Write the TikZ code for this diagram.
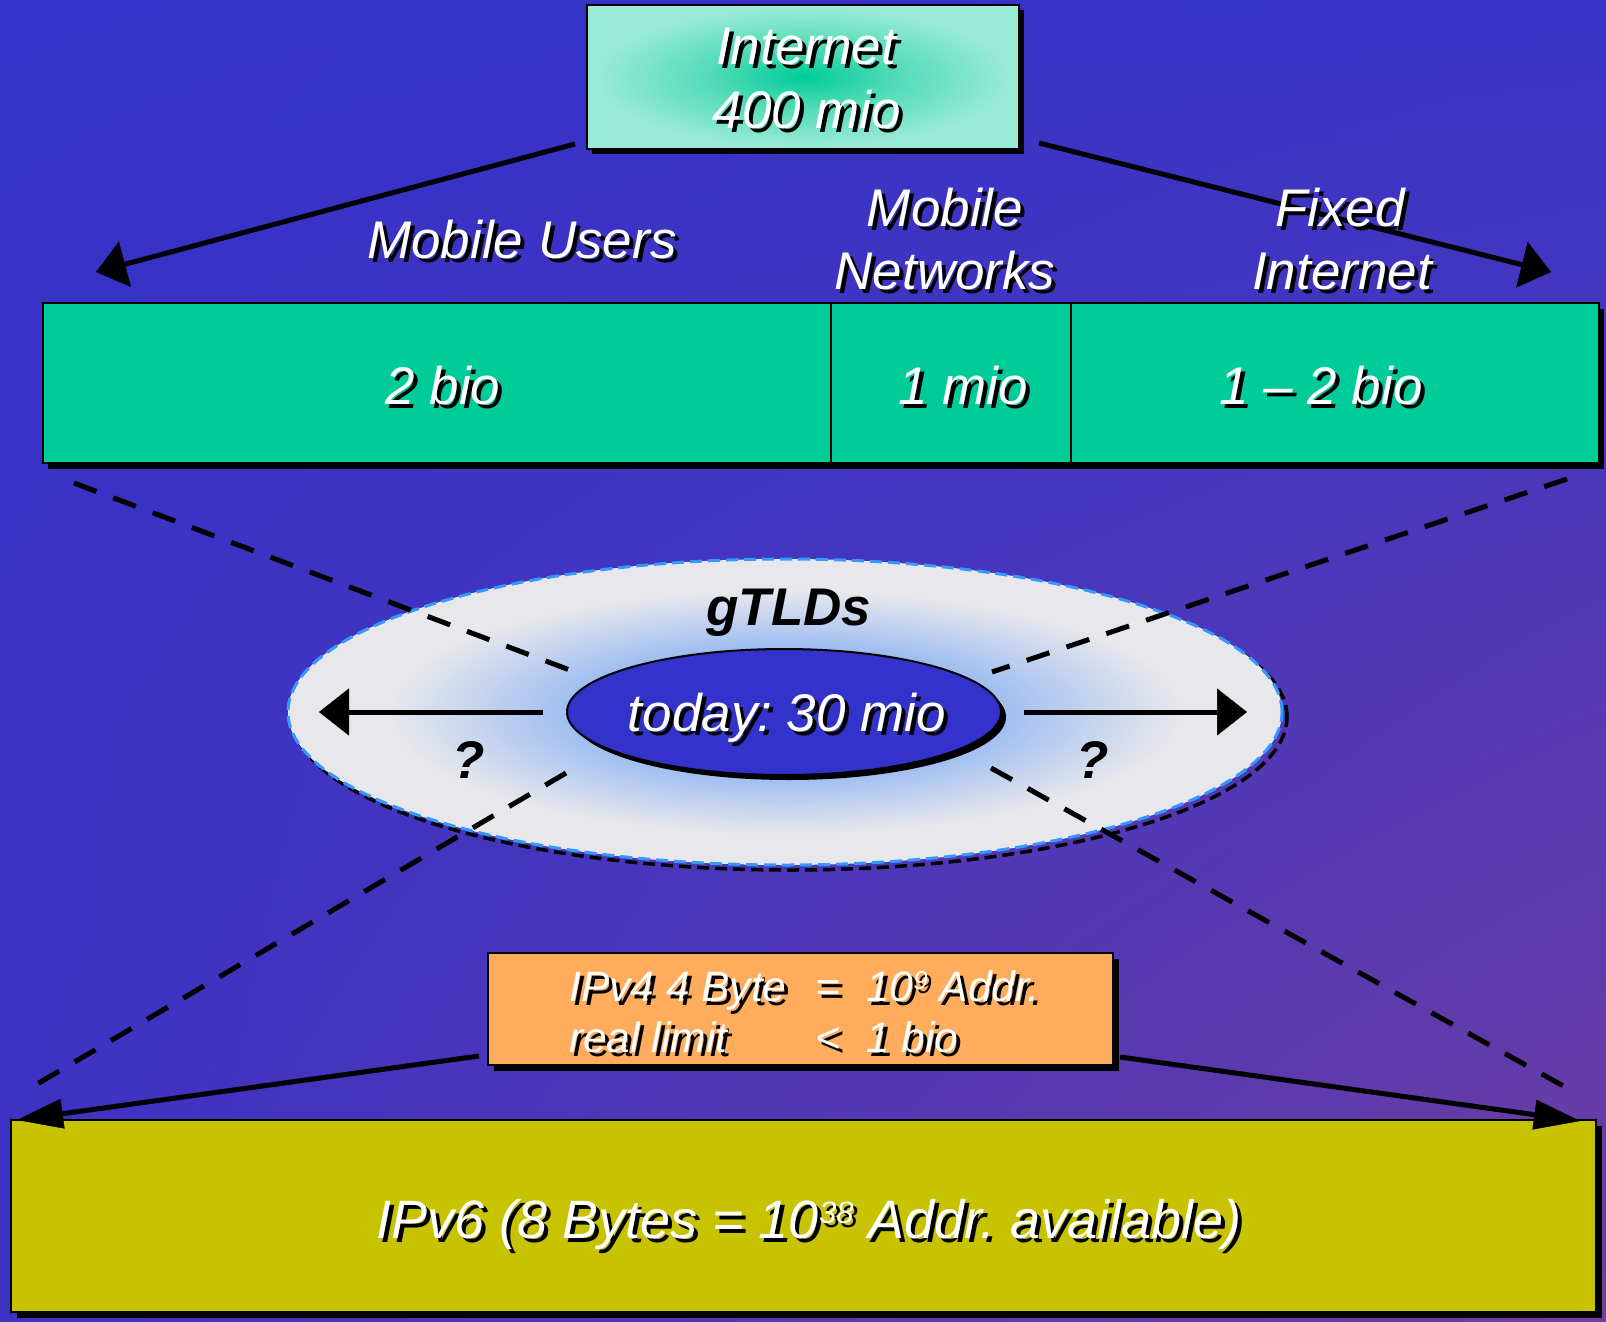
\documentclass[tikz,border=0pt]{standalone}
\usepackage{fontspec}
\setmainfont{Liberation Sans}
\usetikzlibrary{arrows.meta,shapes.geometric,shadings}
\definecolor{bgUL}{RGB}{52,50,200}
\definecolor{bgUR}{RGB}{56,52,200}
\definecolor{bgLL}{RGB}{62,50,194}
\definecolor{bgLR}{RGB}{112,62,160}
\definecolor{barGreen}{RGB}{0,204,153}
\definecolor{boxOrange}{RGB}{255,173,92}
\definecolor{boxYellow}{RGB}{200,195,0}
\definecolor{innerBlue}{RGB}{51,51,204}
\definecolor{rimBlue}{RGB}{51,153,255}
\pgfdeclareradialshading{inetshade}{\pgfpoint{0bp}{0bp}}{rgb(0bp)=(0,0.8,0.6);rgb(11bp)=(0.33,0.86,0.72);rgb(24bp)=(0.6,0.92,0.84);rgb(50bp)=(0.6,0.92,0.84)}
\pgfdeclareradialshading{gtldshade}{\pgfpoint{0bp}{0bp}}{rgb(0bp)=(0.60,0.73,0.95);rgb(10bp)=(0.60,0.73,0.95);rgb(20bp)=(0.91,0.91,0.925);rgb(50bp)=(0.91,0.91,0.925)}
\newcommand\shd[1]{\rlap{\kern4pt\raisebox{-4pt}{\color{black}#1}}#1}
\newcommand\supr[3]{\raisebox{#2}{\fontsize{#1}{#1}\selectfont #3}}
\frenchspacing
\begin{document}
\begin{tikzpicture}[x=1pt,y=-1pt,
  txt/.style={inner sep=0pt, text=white, font=\fontsize{53}{62}\selectfont\itshape, anchor=base},
  smalltxt/.style={txt, font=\fontsize{42.5}{50}\selectfont\itshape},
  blk/.style={txt, text=black, font=\fontsize{53}{62}\selectfont\bfseries\itshape},
  box/.style={draw=black, line width=2pt, inner sep=0pt, outer sep=0pt},
  bigarrow/.style={line width=5pt, -{Triangle[length=30pt,width=47pt,line width=0.5pt]}},
  lowarrow/.style={line width=5pt, -{Triangle[length=46pt,width=30pt,line width=0.5pt]}},
  dashline/.style={line width=5pt, dash pattern=on 24pt off 18pt},
]
\useasboundingbox (0,0) rectangle (1606,1322);
\shade[upper left=bgUL, upper right=bgUR, lower left=bgLL, lower right=bgLR] (0,0) rectangle (1606,1322);

% Internet box
\fill[black] (592,10) rectangle (1024,154);
\node[box, shade, shading=inetshade, minimum width=432pt, minimum height=144pt] (inet) at (803,77) {};
\node[txt] (tInet) at (806,65) {\shd{Internet}};
\node[txt] (tInetN) at (807,128) {\shd{400 mio}};

% top arrows
\coordinate (tlS) at (575,144);
\coordinate (tlE) at (96,272);
\coordinate (trS) at (1039,143);
\coordinate (trE) at (1551,272);
\draw[bigarrow] (tlS) -- (tlE);
\draw[bigarrow] (trS) -- (trE);

% labels
\node[txt] (tMU) at (522,258) {\shd{Mobile Users}};
\node[txt] (tMN1) at (945,226) {\shd{Mobile}};
\node[txt] (tMN2) at (945,289) {\shd{Networks}};
\node[txt] (tFI1) at (1340,226) {\shd{Fixed}};
\node[txt] (tFI2) at (1342,289) {\shd{Internet}};

% green bar
\fill[black] (48,309) rectangle (1604,469);
\node[box, fill=barGreen, minimum width=788pt, minimum height=160pt] (cellA) at (437,383) {};
\node[box, fill=barGreen, minimum width=240pt, minimum height=160pt] (cellB) at (951,383) {};
\node[box, fill=barGreen, minimum width=528pt, minimum height=160pt] (cellC) at (1335,383) {};
\node[txt] (t2bio) at (443,404) {\shd{2 bio}};
\node[txt] (t1mio) at (963,404) {\shd{1 mio}};
\node[txt] (t12bio) at (1321,404) {\shd{1 \textendash{} 2 bio}};

% outer ellipse
\draw[black, line width=3.5pt, dash pattern=on 12pt off 6pt] (790,717) ellipse [x radius=497pt, y radius=153pt];
\node[ellipse, draw=rimBlue, line width=3pt, dash pattern=on 12pt off 6pt, shade, shading=gtldshade, minimum width=994pt, minimum height=306pt, inner sep=0pt] (outer) at (785,712) {};

% dashed lines
\coordinate (dUL1) at (74,483);
\coordinate (dUL2) at (575,672);
\coordinate (dUR1) at (1567,479);
\coordinate (dUR2) at (992,672);
\coordinate (dLL1) at (566,773);
\coordinate (dLL2) at (32,1087);
\coordinate (dLR1) at (991,768);
\coordinate (dLR2) at (1567,1088);
\draw[dashline] (dUL1) -- (dUL2);
\draw[dashline] (dUR1) -- (dUR2);
\draw[dashline] (dLL1) -- (dLL2);
\draw[dashline] (dLR1) -- (dLR2);

% inner ellipse
\fill[black] (789,717) ellipse [x radius=217pt, y radius=63pt];
\node[ellipse, draw=black, line width=2pt, fill=innerBlue, minimum width=434pt, minimum height=126pt, inner sep=0pt] (inner) at (784,712) {};

% ellipse arrows
\coordinate (elS) at (543,712);
\coordinate (elE) at (319,712);
\coordinate (erS) at (1024,712);
\coordinate (erE) at (1247,712);
\draw[bigarrow] (elS) -- (elE);
\draw[bigarrow] (erS) -- (erE);

\node[blk] (tgtld) at (789,625) {gTLDs};
\node[txt] (ttoday) at (787,731) {\shd{today: 30 mio}};
\node[blk] (q1) at (469,778) {?};
\node[blk] (q2) at (1093,778) {?};

% orange box
\fill[black] (494,959) rectangle (1119,1071);
\node[box, fill=boxOrange, minimum width=625pt, minimum height=112pt] (ipv4) at (800.5,1009) {};
\node[smalltxt, anchor=base west] (oA1) at (569,1001) {\shd{IPv4 4 Byte}};
\node[smalltxt] (oA2) at (828,1001) {\shd{=}};
\node[smalltxt, anchor=base west] (oA3) at (866,1001) {\shd{10\supr{26pt}{12pt}{9} Addr.}};
\node[smalltxt, anchor=base west] (oB1) at (569,1052) {\shd{real limit}};
\node[smalltxt] (oB2) at (828,1052) {\shd{<}};
\node[smalltxt, anchor=base west] (oB3) at (866,1052) {\shd{1 bio}};

% yellow box
\fill[black] (17,1126) rectangle (1602,1318);
\node[box, fill=boxYellow, minimum width=1585pt, minimum height=192pt] (ipv6) at (803.5,1216) {};
\node[txt, font=\fontsize{54}{62}\selectfont\itshape] (tv6) at (809,1238) {\shd{IPv6 (8 Bytes = 10\supr{31pt}{15pt}{38} Addr. available)}};

% bottom arrows
\coordinate (blS) at (479,1056);
\coordinate (blE) at (17,1120);
\coordinate (brS) at (1120,1057);
\coordinate (brE) at (1580,1121);
\draw[lowarrow] (blS) -- (blE);
\draw[lowarrow] (brS) -- (brE);
\end{tikzpicture}
\end{document}
